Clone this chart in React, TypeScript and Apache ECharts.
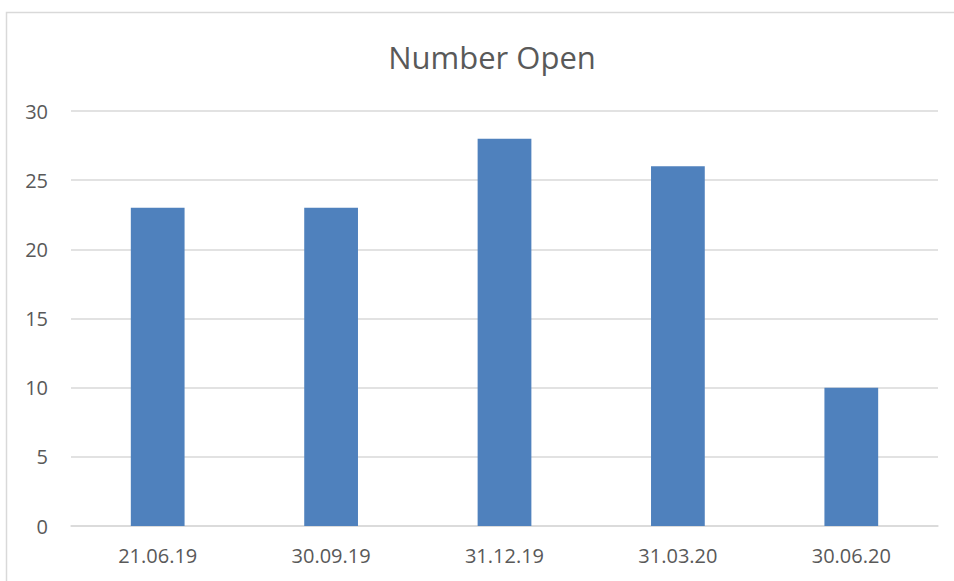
import React, { useEffect, useRef } from "react";
import * as echarts from "echarts";

const categories = ["21.06.19", "30.09.19", "31.12.19", "31.03.20", "30.06.20"];
const numberOpen = [23, 23, 28, 26, 10];
const yTicks = { min: 0, max: 30, interval: 5 };

export default function App() {
  const ref = useRef<HTMLDivElement>(null);
  useEffect(() => {
    if (!ref.current) return;
    const chart = echarts.init(ref.current, null, { renderer: "svg" });
    chart.setOption({
      animation: false,
      backgroundColor: "#ffffff",
      title: {
        text: "Number Open",
        left: 487,
        textAlign: "center",
        top: 36,
        textStyle: {
          fontFamily: "Open Sans",
          fontSize: 31,
          fontWeight: "normal",
          color: "#595959",
        },
      },
      graphic: [
        {
          type: "rect",
          shape: { x: 6.5, y: 12.5, width: 1200, height: 1200 },
          style: { fill: "none", stroke: "#D9D9D9", lineWidth: 1.5 },
          silent: true,
        },
      ],
      grid: { left: 71, right: 16, top: 111, bottom: 55, containLabel: false },
      xAxis: {
        type: "category",
        data: categories,
        axisLine: { show: true, lineStyle: { color: "#D9D9D9", width: 1.5 } },
        axisTick: { show: false },
        axisLabel: {
          color: "#595959",
          fontFamily: "Open Sans",
          fontSize: 20,
          margin: 19,
        },
      },
      yAxis: {
        type: "value",
        min: yTicks.min,
        max: yTicks.max,
        interval: yTicks.interval,
        axisLine: { show: false },
        axisTick: { show: false },
        splitLine: { lineStyle: { color: "#D9D9D9", width: 1.5 } },
        axisLabel: {
          color: "#595959",
          fontFamily: "Open Sans",
          fontSize: 20,
          margin: 23,
        },
      },
      series: [
        {
          type: "bar",
          name: "Number Open",
          data: numberOpen,
          barWidth: "31%",
          itemStyle: { color: "#4F81BD" },
        },
      ],
    });
    return () => chart.dispose();
  }, []);
  return (
    <div
      ref={ref}
      style={{ position: "fixed", left: 0, top: 0, width: 954, height: 581 }}
    />
  );
}
